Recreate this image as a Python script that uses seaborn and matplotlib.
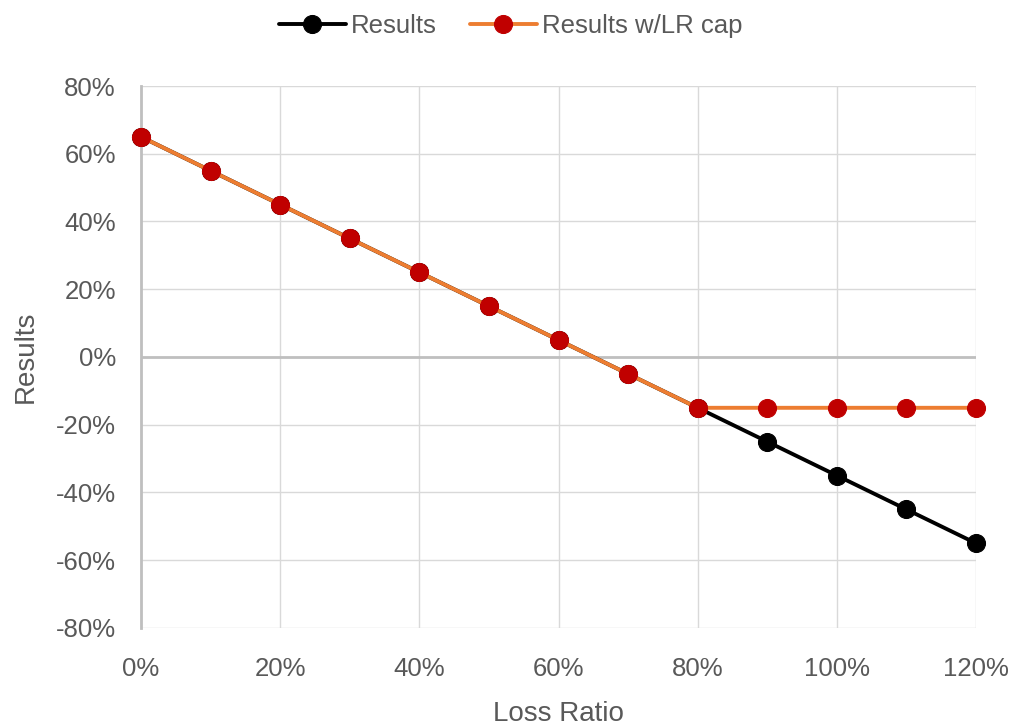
import matplotlib
matplotlib.use("Agg")
import matplotlib.pyplot as plt
import seaborn as sns
import pandas as pd
from matplotlib.ticker import FuncFormatter, MultipleLocator

# Loss ratio (%) and the resulting outcome (%) with and without a loss-ratio cap
loss_ratio = [0, 10, 20, 30, 40, 50, 60, 70, 80, 90, 100, 110, 120]
results = [65, 55, 45, 35, 25, 15, 5, -5, -15, -25, -35, -45, -55]
results_capped = [65, 55, 45, 35, 25, 15, 5, -5, -15, -15, -15, -15, -15]
series_names = ["Results", "Results w/LR cap"]

sns.set_style("white")
plt.rcParams["font.family"] = ["Liberation Sans", "DejaVu Sans"]

TEXT = "#595959"
GRID = "#d9d9d9"
AXIS = "#bfbfbf"

df = pd.concat([
    pd.DataFrame({"Loss Ratio": loss_ratio, "Results": results, "Series": series_names[0]}),
    pd.DataFrame({"Loss Ratio": loss_ratio, "Results": results_capped, "Series": series_names[1]}),
])

fig = plt.figure(figsize=(10.15, 7.27), dpi=100)
ax = fig.add_axes([0.1389, 0.1362, 0.8227, 0.7455])

line_colors = {series_names[0]: "black", series_names[1]: "#ED7D31"}
marker_colors = {series_names[0]: "black", series_names[1]: "#C00000"}

for name in series_names:
    sub = df[df["Series"] == name]
    sns.lineplot(data=sub, x="Loss Ratio", y="Results", ax=ax,
                 color=line_colors[name], linewidth=2.8, marker="o",
                 markersize=13, markerfacecolor=marker_colors[name],
                 markeredgecolor=marker_colors[name], label=name, zorder=3,
                 clip_on=False)

ax.set_xlim(0, 120)
ax.set_ylim(-80, 80)
ax.xaxis.set_major_locator(MultipleLocator(20))
ax.yaxis.set_major_locator(MultipleLocator(20))
pct = FuncFormatter(lambda v, _: f"{v:.0f}%")
ax.xaxis.set_major_formatter(pct)
ax.yaxis.set_major_formatter(pct)

ax.grid(True, color=GRID, linewidth=1.0, zorder=0)
ax.axhline(0, color=AXIS, linewidth=2.0, zorder=1)
for side in ["top", "right", "bottom"]:
    ax.spines[side].set_visible(False)
ax.spines["left"].set_color(AXIS)
ax.spines["left"].set_linewidth(2.0)
ax.spines["left"].set_zorder(1)

ax.tick_params(axis="both", length=0, labelsize=18.5, labelcolor=TEXT)
ax.tick_params(axis="y", pad=18)
ax.tick_params(axis="x", pad=21)
ax.set_xlabel("Loss Ratio", fontsize=20, color=TEXT, labelpad=14)
ax.set_ylabel("Results", fontsize=20, color=TEXT, labelpad=12)

# Legend centred across the whole figure, above the plot area
handles, labels = ax.get_legend_handles_labels()
ax.get_legend().remove()
fig.legend(handles, labels, loc="upper center", bbox_to_anchor=(0.503, 0.995),
           bbox_transform=fig.transFigure, ncol=2, frameon=False,
           fontsize=18.5, labelcolor=TEXT, handlelength=2.6, handletextpad=0.2,
           columnspacing=1.3, borderaxespad=0)

fig.savefig("out.png", dpi=100, facecolor="white")
